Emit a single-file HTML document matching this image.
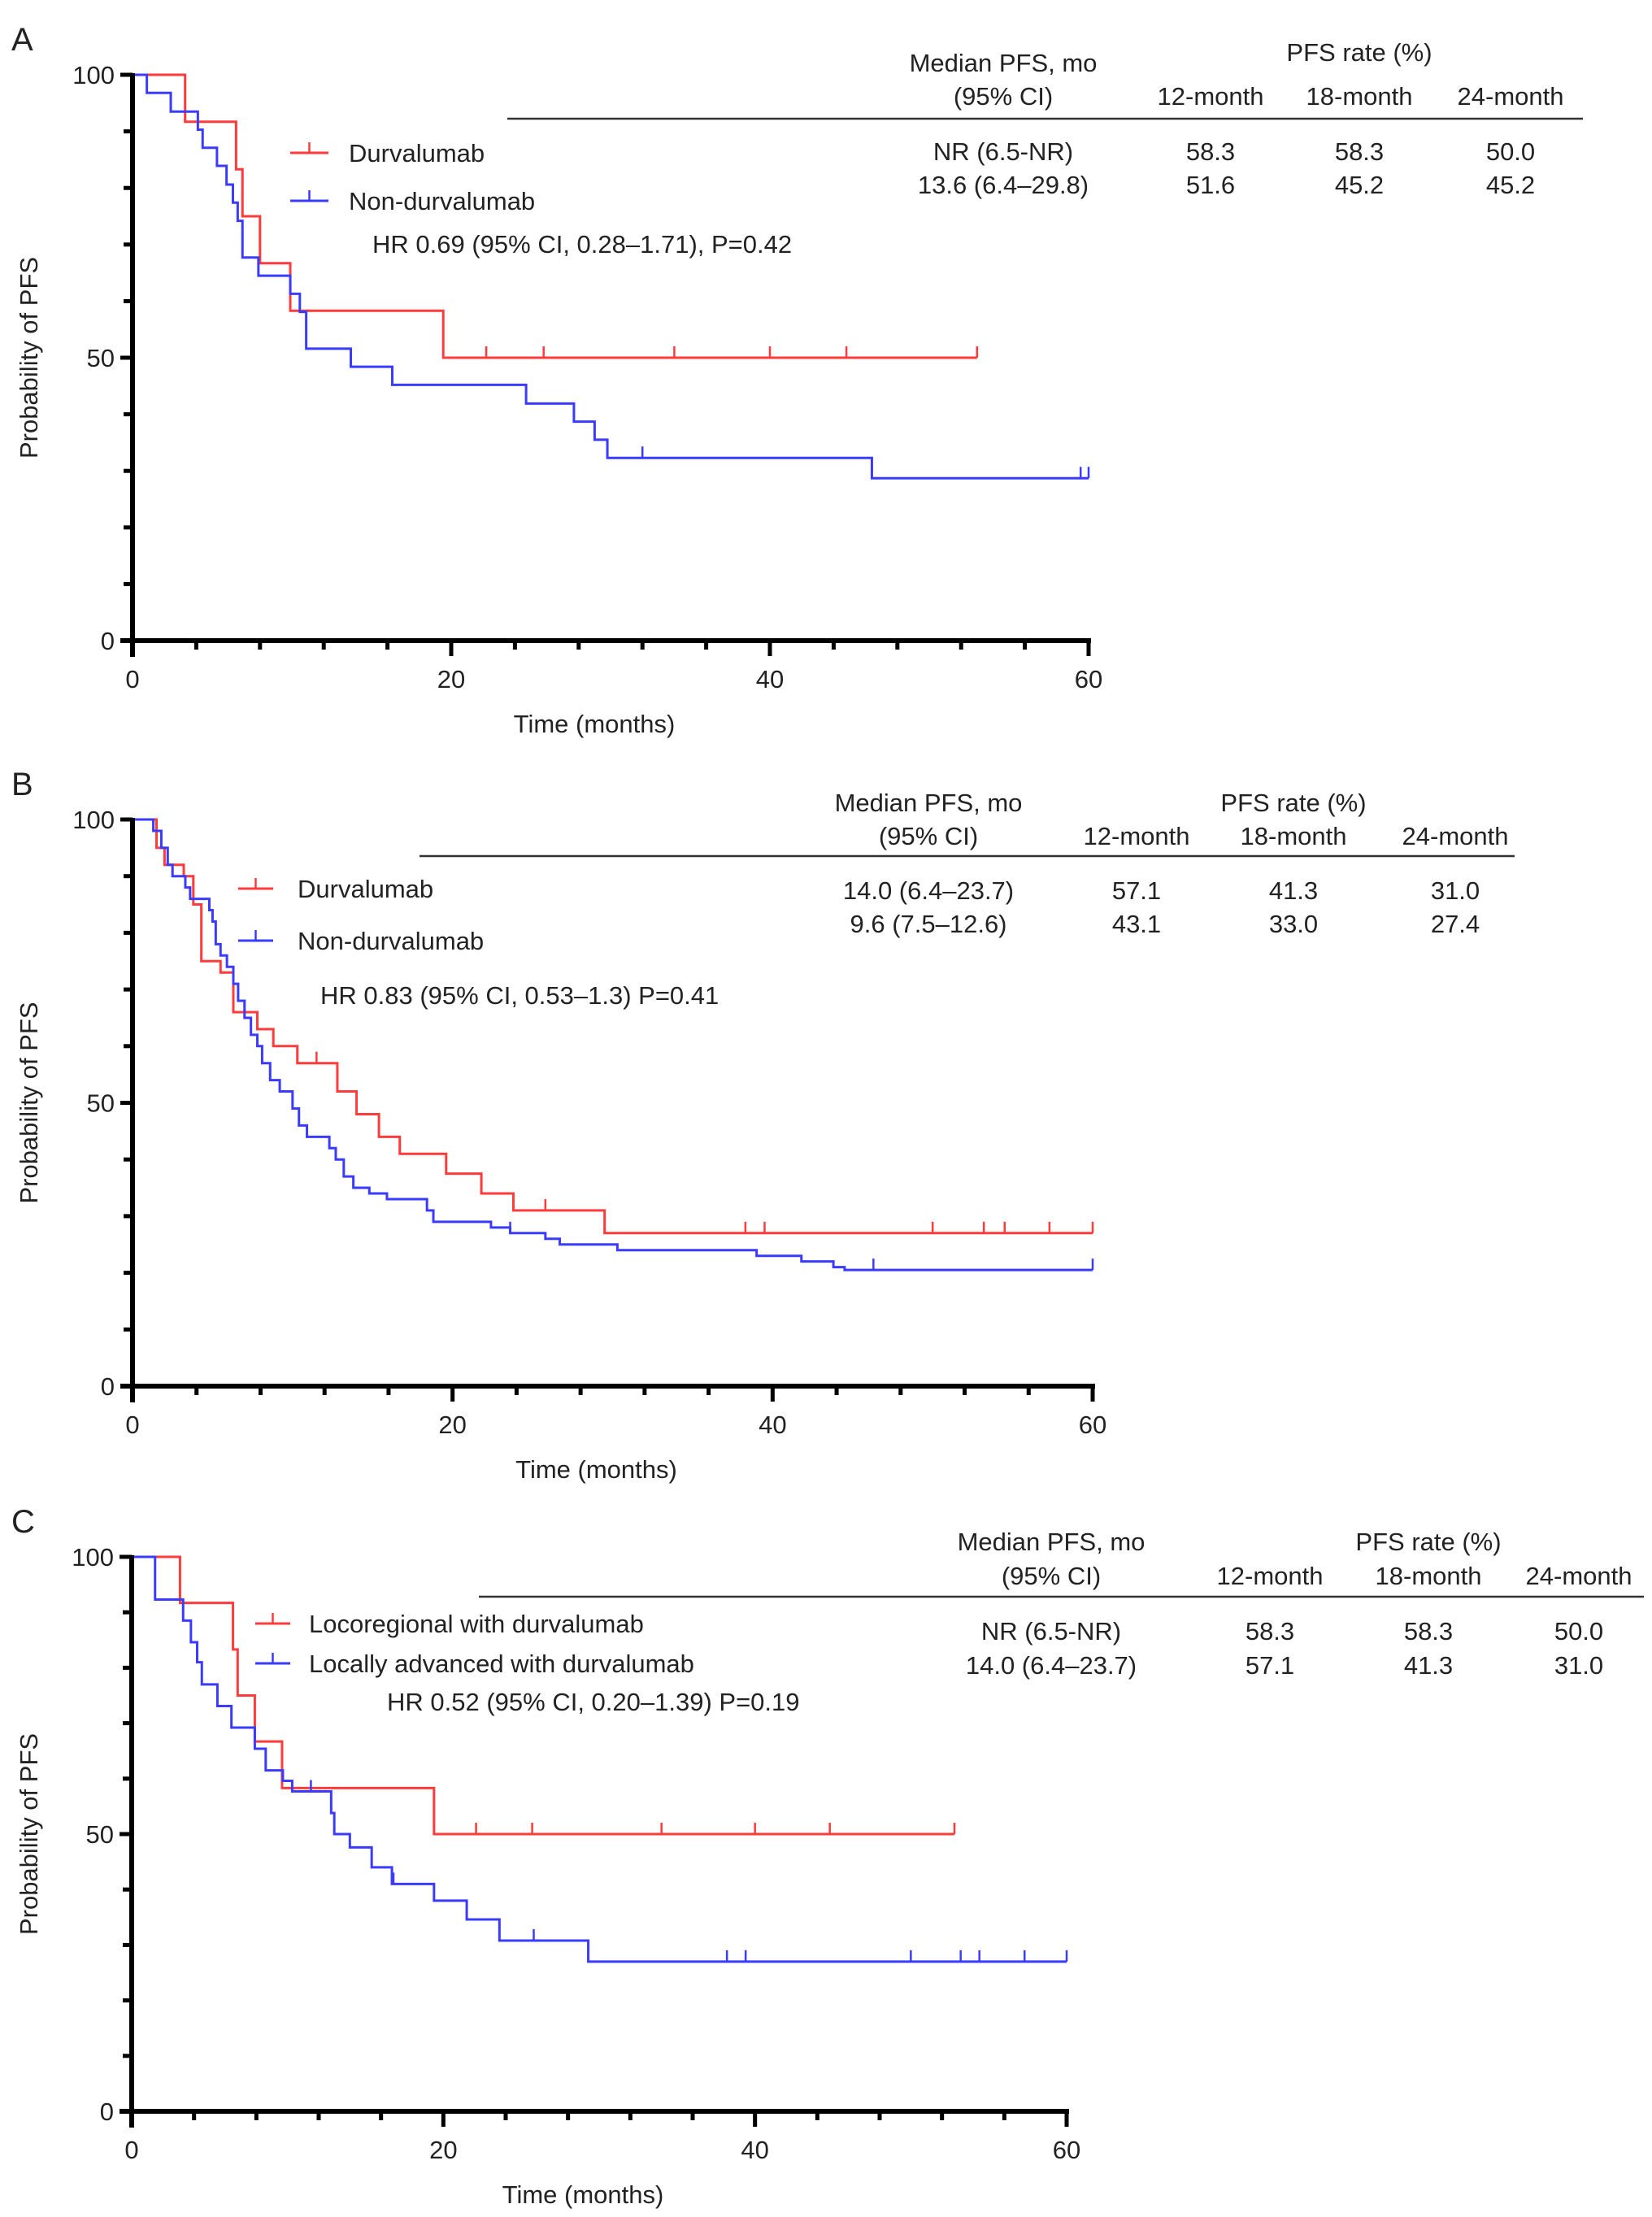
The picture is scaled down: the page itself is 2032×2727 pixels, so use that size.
<!DOCTYPE html>
<html><head><meta charset="utf-8"><style>
html,body{margin:0;padding:0;background:#fff}
svg{display:block}
text{font-family:"Liberation Sans",sans-serif;fill:#222}
</style></head><body>
<svg id="fig" width="2032" height="2727" viewBox="0 0 2032 2727" xmlns="http://www.w3.org/2000/svg"></svg>
<script>
// ---- data ----
const aRedT=[3.3,6.5,6.9,8.0,9.9,19.5];
const aRedS=[91.7,83.3,75.0,66.7,58.3,50.0];
const aRedC=[22.2,25.8,34,40,44.8,53];
const aRedEnd=53;
const aBlueT=[0.9,2.4,4.1,4.4,5.3,5.9,6.3,6.6,6.9,7.9,9.9,10.5,10.9,13.7,16.3,24.7,27.7,29.0,29.8,46.4];
const aBlueS=[96.8,93.5,90.3,87.1,83.9,80.6,77.4,74.2,67.7,64.5,61.3,58.1,51.6,48.4,45.2,41.9,38.7,35.5,32.3,28.7];
const aBlueC=[32,59.5];
const aBlueEnd=60;

const bRedT=[1.5,2.0,3.2,3.8,4.3,5.5,6.3,7.8,8.8,10.3,12.8,14.0,15.4,16.7,19.6,21.8,23.8,29.5];
const bRedS=[95,92,90,85,75,73,66,63,60,57,52,48,44,41,37.5,34,31,27];
const bRedC=[11.5,25.8,38.3,39.5,50,53.2,54.5,57.3];
const bRedEnd=60;
const bBlueT=[1.3,1.8,2.2,2.5,3.3,3.6,4.8,5.0,5.2,5.5,5.9,6.3,6.6,7.0,7.4,7.8,8.1,8.6,9.2,10.0,10.4,10.9,12.3,12.7,13.2,13.8,14.8,15.9,18.4,18.8,22.4,23.6,25.8,26.7,30.3,39.0,41.8,43.8,44.5];
const bBlueS=[98,95,92,90,88,86,84,82,78,76,74,71,68,65,62,60,57,54,52,49,46,44,42,40,37,35,34,33,31,29,28,27,26,25,24,23,22,21,20.5];
const bBlueC=[23.6,46.3];
const bBlueEnd=60;

const cRedT=[3.1,6.5,6.8,7.9,9.65,19.4];
const cRedS=[91.7,83.3,75.0,66.7,58.3,50.0];
const cRedC=[22.1,25.7,34,40,44.8];
const cRedEnd=52.8;
const cBlueT=[1.5,3.3,3.8,4.2,4.5,5.5,6.4,7.9,8.6,9.7,10.3,12.8,13.0,14.0,15.4,16.7,19.4,21.5,23.6,29.3];
const cBlueS=[92.3,88.5,84.6,81.0,77.0,73.1,69.2,65.4,61.5,59.6,57.7,53.8,50.0,47.6,44.0,41.0,38.0,34.6,30.8,27.0];
const cBlueC=[11.5,16.8,25.8,38.2,39.4,50,53.2,54.4,57.3];
const cBlueEnd=60;
const xTicks=[0,20,40,60];
const yTicks=[0,50,100];

const NS="http://www.w3.org/2000/svg";
const svg=document.getElementById('fig');
function mk(tag,attrs,parent,txt){const e=document.createElementNS(NS,tag);for(const k in attrs)e.setAttribute(k,attrs[k]);if(txt!==undefined)e.textContent=txt;(parent||svg).appendChild(e);return e;}

function panel(P){
  const g=mk('g',{});
  
  
  const sx=t=>P.x0+(P.x1-P.x0)*t/60;
  const sy=v=>P.y0+(P.y100-P.y0)*v/100;
  const lt=mk('text',{x:14,y:P.y100-30,'font-size':40},g,P.id);
  
  P.series.forEach(s=>{
    let d='M'+sx(0)+','+sy(100);
    s.t.forEach((t,i)=>{d+=' H'+sx(t)+' V'+sy(s.s[i]);});
    d+=' H'+sx(s.end);
    const p=mk('path',{d:d,fill:'none',stroke:s.col,'stroke-width':3},g);
    
    const cens=s.c.concat([s.end]);
    cens.forEach(c=>{
      let v=100;s.t.forEach((t,i)=>{if(t<=c)v=s.s[i];});
      const m=mk('line',{x1:sx(c),x2:sx(c),y1:sy(v),y2:sy(v)-14,stroke:s.col,'stroke-width':2.5},g);
      
    });
  });
  const ax=mk('g',{},g);
  mk('line',{x1:P.x0,x2:P.x0,y1:P.y100-2,y2:P.y0+20,stroke:'#000','stroke-width':6},ax);
  mk('line',{x1:P.x0-15,x2:P.x1+3,y1:P.y0,y2:P.y0,stroke:'#000','stroke-width':6},ax);
  for(let t=4;t<=60;t+=4){const maj=(t%20===0);mk('line',{x1:sx(t),x2:sx(t),y1:P.y0,y2:P.y0+(maj?19:11),stroke:'#000','stroke-width':5},ax);}
  for(let v=10;v<=100;v+=10){mk('line',{x1:P.x0-(v%50===0?15:11),x2:P.x0,y1:sy(v),y2:sy(v),stroke:'#000','stroke-width':5},ax);}
  xTicks.forEach(t=>{const e=mk('text',{x:sx(t),y:P.y0+58,'font-size':31,'text-anchor':'middle'},ax,String(t));});
  yTicks.forEach(v=>{const e=mk('text',{x:P.x0-22,y:sy(v)+11,'font-size':31,'text-anchor':'end'},ax,String(v));});
  const xt=mk('text',{x:sx(30)-20,y:P.y0+113,'font-size':31,'text-anchor':'middle'},ax,'Time (months)');
  
  const ym=(P.y0+P.y100)/2;
  const yt=mk('text',{x:0,y:0,'font-size':31,'text-anchor':'middle',transform:'translate(46,'+ym+') rotate(-90)'},ax,'Probability of PFS');
  
  P.series.forEach((s,i)=>{
    const ly=P.legY[i];
    const lg=mk('g',{},g);
    mk('line',{x1:P.legX1,x2:P.legX2,y1:ly,y2:ly,stroke:s.col,'stroke-width':3},lg);
    mk('line',{x1:(P.legX1+P.legX2)/2,x2:(P.legX1+P.legX2)/2,y1:ly,y2:ly-13,stroke:s.col,'stroke-width':2.5},lg);
    mk('text',{x:P.legTX,y:ly+11,'font-size':31},lg,s.label);
  });
  const hr=mk('text',{x:P.hrX,y:P.hrY+11,'font-size':31},g,P.hr);
  
  const tb=mk('g',{},g);
  const T=P.tab;
  mk('text',{x:T.mc,y:T.h1+11,'font-size':31,'text-anchor':'middle'},tb,'Median PFS, mo');
  mk('text',{x:T.mc,y:T.h2+11,'font-size':31,'text-anchor':'middle'},tb,'(95% CI)');
  mk('text',{x:T.cols[1],y:T.h0+11,'font-size':31,'text-anchor':'middle'},tb,'PFS rate (%)');
  ['12-month','18-month','24-month'].forEach((h,i)=>mk('text',{x:T.cols[i],y:T.h2+11,'font-size':31,'text-anchor':'middle'},tb,h));
  mk('line',{x1:T.lx1,x2:T.lx2,y1:T.ly,y2:T.ly,stroke:'#333','stroke-width':2.5},tb);
  T.rows.forEach((r,ri)=>{
    const y=T.ry[ri]+11;
    mk('text',{x:T.mc,y:y,'font-size':31,'text-anchor':'middle'},tb,r[0]);
    for(let i=0;i<3;i++)mk('text',{x:T.cols[i],y:y,'font-size':31,'text-anchor':'middle'},tb,r[i+1]);
  });
}

panel({id:'A',x0:163,x1:1339,y0:788,y100:92,
 series:[{name:'durvalumab',label:'Durvalumab',col:'#ff3b3b',t:aRedT,s:aRedS,c:aRedC,end:aRedEnd},
         {name:'non-durvalumab',label:'Non-durvalumab',col:'#3b3bff',t:aBlueT,s:aBlueS,c:aBlueC,end:aBlueEnd}],
 legY:[188,247],legX1:357,legX2:404,legTX:429,hrX:458,hrY:300,hr:'HR 0.69 (95% CI, 0.28–1.71), P=0.42',
 tab:{mc:1234,h0:64,h1:77,h2:118,ly:146,lx1:624,lx2:1947,cols:[1489,1672,1858],ry:[186,227],
  rows:[['NR (6.5-NR)','58.3','58.3','50.0'],['13.6 (6.4–29.8)','51.6','45.2','45.2']]}});
panel({id:'B',x0:163,x1:1344,y0:1705,y100:1008,
 series:[{name:'durvalumab',label:'Durvalumab',col:'#ff3b3b',t:bRedT,s:bRedS,c:bRedC,end:bRedEnd},
         {name:'non-durvalumab',label:'Non-durvalumab',col:'#3b3bff',t:bBlueT,s:bBlueS,c:bBlueC,end:bBlueEnd}],
 legY:[1093,1157],legX1:293,legX2:336,legTX:366,hrX:394,hrY:1224,hr:'HR 0.83 (95% CI, 0.53–1.3) P=0.41',
 tab:{mc:1142,h0:987,h1:987,h2:1028,ly:1053,lx1:516,lx2:1863,cols:[1398,1591,1790],ry:[1095,1136],
  rows:[['14.0 (6.4–23.7)','57.1','41.3','31.0'],['9.6 (7.5–12.6)','43.1','33.0','27.4']]}});
panel({id:'C',x0:162,x1:1312,y0:2597,y100:1915,
 series:[{name:'locoregional',label:'Locoregional with durvalumab',col:'#ff3b3b',t:cRedT,s:cRedS,c:cRedC,end:cRedEnd},
         {name:'locally-advanced',label:'Locally advanced with durvalumab',col:'#3b3bff',t:cBlueT,s:cBlueS,c:cBlueC,end:cBlueEnd}],
 legY:[1997,2046],legX1:314,legX2:357,legTX:380,hrX:476,hrY:2093,hr:'HR 0.52 (95% CI, 0.20–1.39) P=0.19',
 tab:{mc:1293,h0:1896,h1:1896,h2:1938,ly:1964,lx1:589,lx2:2022,cols:[1562,1757,1942],ry:[2006,2048],
  rows:[['NR (6.5-NR)','58.3','58.3','50.0'],['14.0 (6.4–23.7)','57.1','41.3','31.0']]}});
</script>
</body></html>
